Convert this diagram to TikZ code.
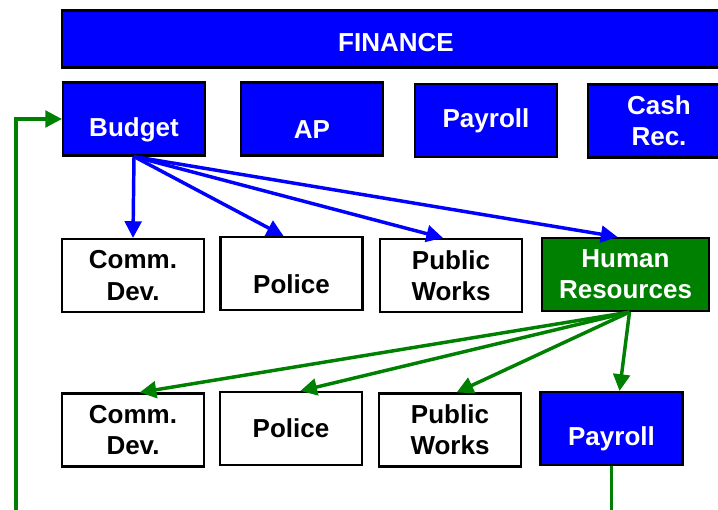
\documentclass[tikz,border=0pt]{standalone}
\usepackage{fontspec}
\setmainfont{Liberation Sans}
\usepackage{tikz}
\usetikzlibrary{arrows.meta}
\definecolor{deptblue}{RGB}{0,0,255}
\definecolor{deptgreen}{RGB}{0,128,0}

\begin{document}
\begin{tikzpicture}[x=0.75pt, y=-0.75pt,
  box/.style={draw=black, line width=1.6pt, minimum width=106.5pt, minimum height=54.75pt,
    inner sep=0pt, align=center, font=\bfseries\fontsize{19.5}{23.5}\selectfont},
  finbox/.style={box, fill=deptblue, text=white},
  hrbox/.style={box, fill=deptgreen, text=white, minimum width=125.25pt},
  lowtext/.style={font=\bfseries\fontsize{19.5}{23.5}\selectfont, yshift=-8pt},
  bluearrow/.style={draw=deptblue, line width=2.6pt, -{Triangle[length=12.5pt,width=12.5pt]}},
  greenarrow/.style={draw=deptgreen, line width=2.6pt, -{Triangle[length=12.5pt,width=12.5pt]}}]
  \useasboundingbox (0,0) rectangle (718,510);
  % Finance and its divisions
  \node[finbox, minimum width=501pt, minimum height=42.75pt,
    label={[lowtext, text=white, yshift=5.5pt]center:FINANCE}] (fin) at (396,39) {};
  \node[finbox, label={[lowtext, text=white]center:Budget}] (budget) at (134,119) {};
  \node[finbox, label={[lowtext, text=white]center:AP}] (ap) at (312,119) {};
  \node[finbox] (pay1) at (486,120.5) {Payroll};
  \node[finbox] (cash) at (659,121) {Cash\\Rec.};
  % Departments served by Budget
  \node[box] (cd1) at (133,275.5) {Comm.\\Dev.};
  \node[box, label={[lowtext]center:Police}] (pol1) at (291.5,273.5) {};
  \node[box] (pw1) at (451,275.5) {Public\\Works};
  \node[hrbox] (hr) at (625.5,274.5) {Human\\Resources};
  % Departments served by Human Resources
  \node[box] (cd2) at (133,430) {Comm.\\Dev.};
  \node[box] (pol2) at (291,428.5) {Police};
  \node[box] (pw2) at (450,430) {Public\\Works};
  \node[finbox, label={[lowtext, text=white]center:Payroll}] (pay2) at (611.5,428.5) {};
  % Arrows
  \foreach \t/\s in {cd1/0pt, pol1/-6pt, pw1/-6pt, hr/-6pt}
    \draw[bluearrow] (budget.south) -- ([xshift=\s]\t.north);
  \foreach \t/\s in {cd2/5pt, pol2/7pt, pw2/5pt, pay2/6pt}
    \draw[greenarrow] ([xshift=3pt]hr.south) -- ([xshift=\s]\t.north);
  % Loop back to Budget
  \coordinate (back) at (16,540);
  \draw[greenarrow] (pay2.south) |- (back) |- (budget.west);
\end{tikzpicture}
\end{document}
